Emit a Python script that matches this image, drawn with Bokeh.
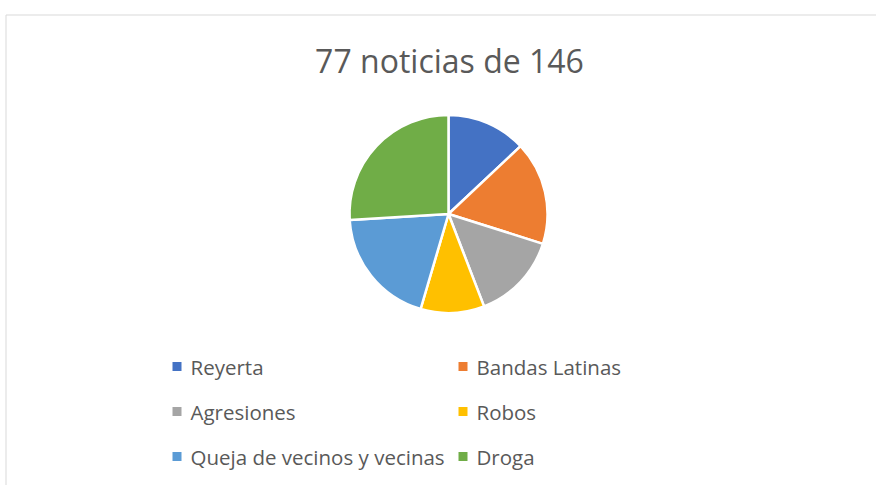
import math
from bokeh.plotting import figure
from bokeh.models import Range1d, ColumnDataSource
from bokeh.core.properties import value
from bokeh.embed import file_html
from bokeh.resources import INLINE

title = "77 noticias de 146"
categories = ["Reyerta", "Bandas Latinas", "Agresiones", "Robos",
              "Queja de vecinos y vecinas", "Droga"]
counts = [10, 13, 11, 8, 15, 20]
colors = ["#4472C4", "#ED7D31", "#A5A5A5", "#FFC000", "#5B9BD5", "#70AD47"]

W, H = 876, 485
p = figure(width=W, height=H, output_backend="svg", toolbar_location=None,
           x_range=Range1d(0, W), y_range=Range1d(0, H), min_border=0)
p.axis.visible = False
p.grid.visible = False
p.outline_line_color = None
p.background_fill_color = "white"

# chart area border (top and left)
p.segment(x0=[5.5, 5.5], y0=[470.5, 470.5], x1=[W, 5.5], y1=[470.5, 0],
          line_color="#D9D9D9", line_width=1)

# title
p.text(x=[449], y=[425], text=[title], text_font=value("Open Sans"),
       text_font_size="32px", text_color="#595959", text_align="center",
       text_baseline="middle")

# pie
total = sum(counts)
starts, ends = [], []
cum = 0
for c in counts:
    starts.append(math.pi / 2 - 2 * math.pi * cum / total)
    cum += c
    ends.append(math.pi / 2 - 2 * math.pi * cum / total)
src = ColumnDataSource(dict(start=starts, end=ends, color=colors, cat=categories, n=counts))
p.wedge(x=448, y=271.5, radius=99, radius_units="screen", start_angle="start",
        end_angle="end", direction="clock", fill_color="color",
        line_color="white", line_width=2.5, source=src)

# legend
mx = [176.5, 462.5]
tx = [190, 476]
ry = [119, 74, 29]
lx, ly, ltx = [], [], []
for i, cat in enumerate(categories):
    col, row = i % 2, i // 2
    lx.append(mx[col]); ly.append(ry[row]); ltx.append(tx[col])
lsrc = ColumnDataSource(dict(x=lx, y=ly, tx=ltx, cat=categories, color=colors))
p.scatter(x="x", y="y", marker="square", size=9, fill_color="color",
          line_color=None, source=lsrc)
p.text(x="tx", y="y", text="cat", text_font=value("Open Sans"),
       text_font_size="20.5px", text_color="#595959", text_baseline="middle",
       source=lsrc)

open("out.html", "w").write(file_html(p, INLINE))
